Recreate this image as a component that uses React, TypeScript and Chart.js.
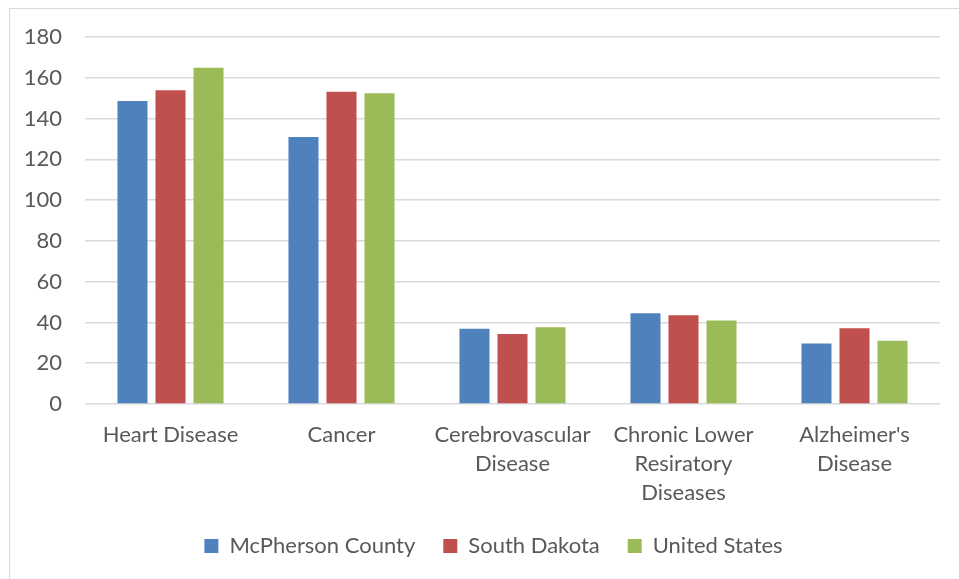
import React, { useEffect, useRef } from "react";
import { Chart, registerables } from "chart.js";

Chart.register(...registerables);

const categories: string[][] = [
  ["Heart Disease"],
  ["Cancer"],
  ["Cerebrovascular", "Disease"],
  ["Chronic Lower", "Resiratory", "Diseases"],
  ["Alzheimer's", "Disease"],
];
const seriesNames = ["McPherson County", "South Dakota", "United States"];
const mcpherson = [148.6, 130.9, 36.9, 44.5, 29.7];
const southDakota = [153.9, 153.1, 34.3, 43.5, 37.1];
const unitedStates = [164.9, 152.4, 37.6, 40.9, 31.0];
const seriesColors = ["#4F81BD", "#C0504D", "#9BBB59"];
const yMin = 0;
const yMax = 180;
const yStep = 20;

const FONT = "Lato";
const TEXT = "#595959";
const GRID = "#D9D9D9";

const legendShift = {
  id: "legendShift",
  afterLayout(chart: any) {
    if (chart.legend) {
      chart.legend.left += 18.5;
      chart.legend.right += 18.5;
    }
  },
};

export default function App() {
  const ref = useRef<HTMLCanvasElement>(null);
  useEffect(() => {
    if (!ref.current) return;
    const chart = new Chart(ref.current, {
      type: "bar",
      data: {
        labels: categories,
        datasets: [mcpherson, southDakota, unitedStates].map((d, i) => ({
          label: seriesNames[i],
          data: d,
          backgroundColor: seriesColors[i],
          borderWidth: 0,
          categoryPercentage: 0.667,
          barPercentage: 0.79,
        })),
      },
      plugins: [legendShift],
      options: {
        animation: false,
        responsive: false,
        devicePixelRatio: 1,
        layout: { padding: { left: 0, top: 28, right: 37, bottom: 17 } },
        plugins: {
          tooltip: { enabled: false },
          legend: {
            position: "bottom",
            labels: {
              boxWidth: 14,
              boxHeight: 14,
              padding: 28,
              color: TEXT,
              font: { family: FONT, size: 22 },
            },
          },
        },
        scales: {
          x: {
            grid: { display: false, drawTicks: false },
            border: { display: false },
            ticks: {
              color: TEXT,
              font: { family: FONT, size: 22, lineHeight: 1.32 },
              padding: 16,
              maxRotation: 0,
              minRotation: 0,
              autoSkip: false,
            },
            afterFit: (s: any) => {
              s.height = 103;
            },
          },
          y: {
            min: yMin,
            max: yMax,
            grid: { color: GRID, lineWidth: 1.5, drawTicks: false },
            border: { display: false },
            ticks: {
              stepSize: yStep,
              color: TEXT,
              font: { family: FONT, size: 22, lineHeight: 0.4 },
              padding: 23,
            },
            afterFit: (s: any) => {
              s.width = 75;
            },
          },
        },
      },
    });
    return () => chart.destroy();
  }, []);
  return (
    <div
      style={{
        position: "fixed",
        left: 9,
        top: 8,
        width: 980,
        height: 600,
        borderLeft: `1px solid ${GRID}`,
        borderTop: `1px solid ${GRID}`,
        background: "#fff",
      }}
    >
      <canvas ref={ref} width={967} height={575} style={{ display: "block" }} />
    </div>
  );
}
